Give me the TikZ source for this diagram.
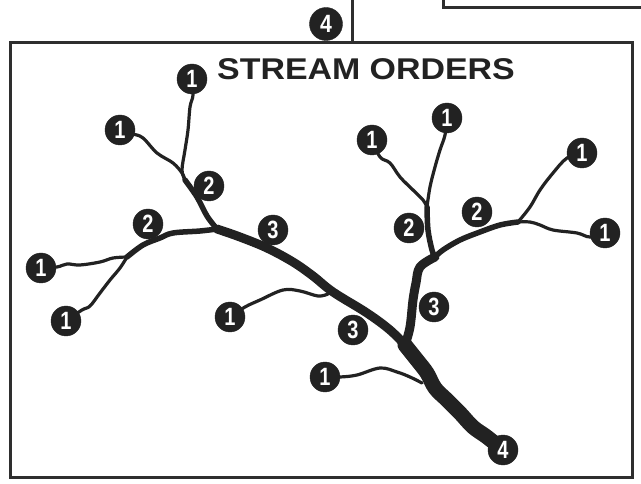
\documentclass[tikz,border=0pt]{standalone}
\usepackage{fontspec}
\setmainfont{Liberation Sans}
\pgfdeclarelayer{bg}
\pgfsetlayers{bg,main}
\definecolor{ink}{HTML}{222222}
\definecolor{rule}{HTML}{2E2E2E}
\begin{document}
\begin{tikzpicture}[x=1pt,y=-1pt,
  order/.style={circle,fill=ink,draw=ink,inner sep=0pt,minimum size=30pt,
    text=white,font=\fontsize{25}{25}\selectfont\bfseries},
  s1/.style={draw=ink,line width=3.2pt,line cap=round,line join=round},
  s2/.style={draw=ink,line width=5.5pt,line cap=round,line join=round},
  s3/.style={draw=ink,line width=9pt,line cap=round,line join=round},
  s4/.style={draw=ink,line width=15pt,line cap=round,line join=round},
  frame/.style={draw=rule,line width=3pt}]
\useasboundingbox (0,0) rectangle (641,484);

% surrounding panel edges
\draw[frame] (10,43) rectangle (632,477);
\draw[frame] (352,0) -- (352,43);
\draw[frame] (443,0) -- (443,8) -- (641,8);
\node[order,minimum size=33pt] (top4) at (326,24) {\scalebox{0.85}[1]{4}};

\node[font=\fontsize{30}{30}\selectfont\bfseries,text=ink] (title) at (366,69)
  {\scalebox{1.13}[1]{STREAM ORDERS}};

% stream order markers
\node[order] (L1a) at (192,79)  {\scalebox{0.8}[1]{1}};
\node[order] (L1b) at (120,130) {\scalebox{0.8}[1]{1}};
\node[order] (L2a) at (209,186) {\scalebox{0.8}[1]{2}};
\node[order] (L2b) at (148,224) {\scalebox{0.8}[1]{2}};
\node[order] (L3)  at (273,230) {\scalebox{0.8}[1]{3}};
\node[order] (L1c) at (41,268)  {\scalebox{0.8}[1]{1}};
\node[order] (L1d) at (66,321)  {\scalebox{0.8}[1]{1}};
\node[order] (L1e) at (230,317) {\scalebox{0.8}[1]{1}};
\node[order] (R1a) at (372,140) {\scalebox{0.8}[1]{1}};
\node[order] (R1b) at (447,118) {\scalebox{0.8}[1]{1}};
\node[order] (R1c) at (582,153) {\scalebox{0.8}[1]{1}};
\node[order] (R1d) at (605,233) {\scalebox{0.8}[1]{1}};
\node[order] (R2a) at (477,212) {\scalebox{0.8}[1]{2}};
\node[order] (R2b) at (409,228) {\scalebox{0.8}[1]{2}};
\node[order] (R3a) at (434,307) {\scalebox{0.8}[1]{3}};
\node[order] (R3b) at (353,330) {\scalebox{0.8}[1]{3}};
\node[order] (R1e) at (325,377) {\scalebox{0.8}[1]{1}};
\node[order] (mouth) at (503,450) {\scalebox{0.8}[1]{4}};

% confluences
\coordinate (jA) at (185,180);
\coordinate (jB) at (217,229);
\coordinate (jC) at (127,257);
\coordinate (jD) at (427,207);
\coordinate (jE) at (518,222);
\coordinate (jF) at (435,257);
\coordinate (jG) at (405,345);
\coordinate (jH) at (422,383);
\coordinate (jI) at (328,294);

\begin{pgfonlayer}{bg}
  \fill[white] (0,0) rectangle (641,484);
  % first-order headwaters
  \draw[s1] plot[smooth,tension=.6] coordinates {(L1a) (193,95) (190,107) (188,130) (185,150) (182,170) (jA)};
  \draw[s1] plot[smooth,tension=.6] coordinates {(L1b) (133,134) (143,138) (157,153) (173,163) (182,173) (jA)};
  \draw[s1] plot[smooth,tension=.6] coordinates {(L1c) (57,267) (67,264) (80,265) (100,262) (113,258) (jC)};
  \draw[s1] plot[smooth,tension=.6] coordinates {(L1d) (82,310) (90,306) (100,293) (110,280) (120,268) (jC)};
  \draw[s1] plot[smooth,tension=.6] coordinates {(L1e) (245,307) (260,300) (283,290) (300,291) (318,296) (jI)};
  \draw[s1] plot[smooth,tension=.6] coordinates {(R1a) (380,157) (390,163) (400,177) (413,190) (423,200) (jD)};
  \draw[s1] plot[smooth,tension=.6] coordinates {(R1b) (445,135) (440,150) (435,167) (430,187) (jD)};
  \draw[s1] plot[smooth,tension=.6] coordinates {(R1c) (567,158) (553,173) (540,190) (530,207) (jE)};
  \draw[s1] plot[smooth,tension=.6] coordinates {(R1d) (590,237) (577,233) (553,230) (540,225) (530,222) (jE)};
  \draw[s1] plot[smooth,tension=.6] coordinates {(R1e) (340,377) (357,375) (380,368) (397,372) (410,377) (jH)};
  % second order
  \draw[s2] plot[smooth,tension=.6] coordinates {(jA) (197,197) (207,216) (jB)};
  \draw[s2] plot[smooth,tension=.6] coordinates {(jC) (143,245) (160,238) (173,233) (200,231) (jB)};
  \draw[s2] plot[smooth,tension=.6] coordinates {(jD) (428,230) (432,250) (jF)};
  \draw[s2] plot[smooth,tension=.6] coordinates {(jE) (500,225) (480,232) (460,240) (443,250) (jF)};
  % third order
  \draw[s3] plot[smooth,tension=.6] coordinates {(jB) (240,237) (267,248) (293,262) (313,276) (333,292) (367,313) (390,330) (jG)};
  \draw[s3] plot[smooth,tension=.6] coordinates {(jF) (420,267) (416,283) (413,300) (410,327) (jG)};
  % fourth order
  \draw[s4] plot[smooth,tension=.6] coordinates {(jG) (417,360) (427,373) (435,388) (447,400) (460,413) (473,427) (487,437) (mouth)};
\end{pgfonlayer}
\end{tikzpicture}
\end{document}
